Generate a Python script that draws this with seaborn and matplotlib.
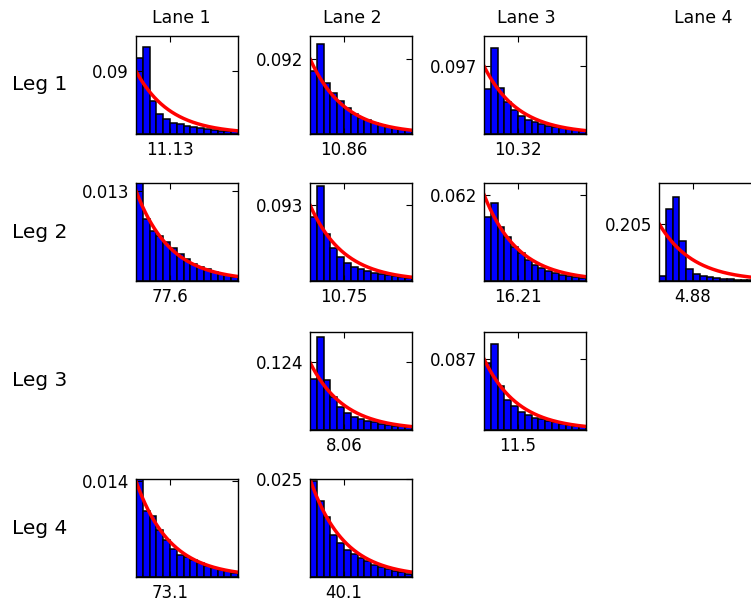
import numpy as np
import pandas as pd
import matplotlib
matplotlib.use('Agg')
import matplotlib.pyplot as plt
import seaborn as sns

lanes = ['Lane 1', 'Lane 2', 'Lane 3', 'Lane 4']
legs = ['Leg 1', 'Leg 2', 'Leg 3', 'Leg 4']

# bar heights (density), 15 bins from 0 to 3*mean
h_leg1_lane1 = [0.108, 0.124, 0.047, 0.029, 0.021, 0.016, 0.0137, 0.0113, 0.0094, 0.0085, 0.0071, 0.0057, 0.0047, 0.0042, 0.0038]
h_leg1_lane2 = [0.0766, 0.1105, 0.0629, 0.0505, 0.0401, 0.0319, 0.0248, 0.019, 0.0166, 0.0132, 0.0108, 0.0091, 0.0074, 0.0062, 0.0054]
h_leg1_lane3 = [0.0646, 0.1226, 0.066, 0.0457, 0.0339, 0.0255, 0.0207, 0.0165, 0.0137, 0.0118, 0.0099, 0.008, 0.0066, 0.0057, 0.0047]
h_leg2_lane1 = [0.0145, 0.00887, 0.00712, 0.00641, 0.00555, 0.00465, 0.0038, 0.00308, 0.00247, 0.00199, 0.00166, 0.00133, 0.00104, 0.00085, 0.00062]
h_leg2_lane2 = [0.0785, 0.1163, 0.0574, 0.0399, 0.0289, 0.0216, 0.0175, 0.0142, 0.0122, 0.0102, 0.0085, 0.0069, 0.0057, 0.0049, 0.0041]
h_leg2_lane3 = [0.046, 0.0556, 0.0388, 0.0312, 0.0245, 0.0197, 0.0149, 0.0113, 0.0091, 0.0072, 0.0058, 0.0046, 0.0036, 0.0026, 0.0019]
h_leg2_lane4 = [0.0177, 0.2578, 0.3015, 0.1431, 0.0414, 0.0248, 0.0177, 0.013, 0.0095, 0.0071, 0.0059, 0.0047, 0.0035, 0.0035, 0.0024]
h_leg3_lane2 = [0.0937, 0.1714, 0.0925, 0.0604, 0.0419, 0.0308, 0.0247, 0.0203, 0.0173, 0.0142, 0.0117, 0.0099, 0.008, 0.0068, 0.0055]
h_leg3_lane3 = [0.0822, 0.1048, 0.0534, 0.0362, 0.0296, 0.0226, 0.0185, 0.0152, 0.0132, 0.0111, 0.0095, 0.0078, 0.0066, 0.0053, 0.0045]
h_leg4_lane1 = [0.0145, 0.00943, 0.00867, 0.00669, 0.00528, 0.00396, 0.00316, 0.00292, 0.00245, 0.00198, 0.0016, 0.00127, 0.00104, 0.0008, 0.00057]
h_leg4_lane2 = [0.0244, 0.0194, 0.0152, 0.0107, 0.0086, 0.0069, 0.0058, 0.0048, 0.004, 0.0031, 0.0025, 0.002, 0.0016, 0.0012, 0.0008]

# (leg index, lane index, mean, heights, y limit)
panels = [
    (0, 0, 11.13, h_leg1_lane1, 0.14),
    (0, 1, 10.86, h_leg1_lane2, 0.12),
    (0, 2, 10.32, h_leg1_lane3, 0.14),
    (1, 0, 77.6, h_leg2_lane1, 0.014),
    (1, 1, 10.75, h_leg2_lane2, 0.12),
    (1, 2, 16.21, h_leg2_lane3, 0.07),
    (1, 3, 4.88, h_leg2_lane4, 0.35),
    (2, 1, 8.06, h_leg3_lane2, 0.18),
    (2, 2, 11.5, h_leg3_lane3, 0.12),
    (3, 0, 73.1, h_leg4_lane1, 0.014),
    (3, 1, 40.1, h_leg4_lane2, 0.025),
]

W, H = 751, 598
fig = plt.figure(figsize=(W / 100, H / 100), dpi=100)

col_left = [136, 310, 484, 659]
row_top = [36, 183, 332, 479]
ax_w, ax_h = 102, 98

for leg_i, lane_i, m, heights, ytop in panels:
    x0 = col_left[lane_i]
    y0 = row_top[leg_i]
    ax = fig.add_axes([x0 / W, 1 - (y0 + ax_h) / H, ax_w / W, ax_h / H])
    xmax = 3 * m
    nb = len(heights)
    centers = (np.arange(nb) + 0.5) * xmax / nb
    df = pd.DataFrame({'x': centers, 'h': heights})
    sns.histplot(data=df, x='x', weights='h', bins=nb, binrange=(0, xmax), stat='count',
                 color='#0000ff', edgecolor='black', linewidth=1.1, alpha=1, ax=ax)
    # fitted exponential pdf for the panel mean
    xs = np.linspace(0, xmax, 200)
    sns.lineplot(x=xs, y=np.exp(-xs / m) / m, color='red', linewidth=2.5, ax=ax)
    ax.set_xlim(0, xmax)
    ax.set_ylim(0, ytop)
    ax.set_xticks([m])
    ax.set_xticklabels([str(round(m, 2))])
    ax.set_yticks([1 / m])
    ax.set_yticklabels([str(round(1 / m, 3))])
    ax.set_xlabel('')
    ax.set_ylabel('')
    ax.tick_params(direction='in', top=True, right=True, length=4, labelsize=12, pad=5)
    for sp in ax.spines.values():
        sp.set_linewidth(1)
        sp.set_color('black')

lane_x = [181, 352, 526, 703]
for name, x in zip(lanes, lane_x):
    fig.text(x / W, 1 - 18 / H, name, ha='center', va='center', fontsize=12.5)

for name, r in zip(legs, row_top):
    fig.text(12 / W, 1 - (r + ax_h / 2) / H, name, ha='left', va='center', fontsize=14.5)

fig.savefig('out.png', dpi=100)
